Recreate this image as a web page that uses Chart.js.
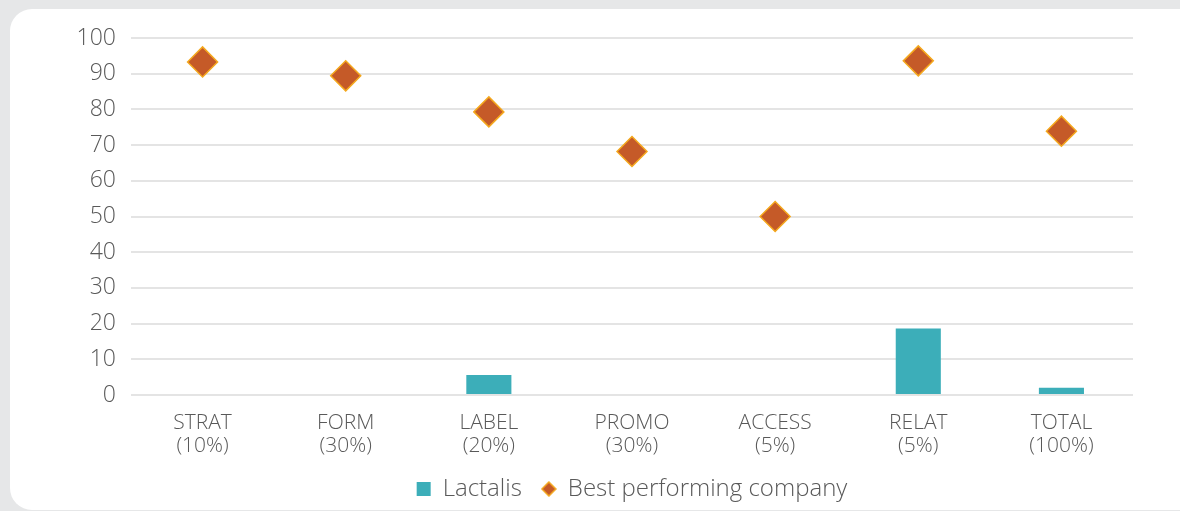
<!DOCTYPE html>
<html>
<head>
<meta charset="utf-8">
<script src="https://cdn.jsdelivr.net/npm/chart.js@4/dist/chart.umd.min.js"></script>
<style>
  html, body { margin: 0; padding: 0; background: #e6e7e8; }
  body { width: 1180px; height: 511px; position: relative; overflow: hidden; }
  .card { position: absolute; left: 10px; top: 9px; width: 1220px; height: 501px; background: #fff; border-radius: 22px; }
  .wrap { position: absolute; left: 0; top: 0; width: 1180px; height: 511px; }
</style>
</head>
<body>
<div class="card"></div>
<div class="wrap"><canvas id="chart"></canvas></div>
<script>
// categories and values
const categories = [['STRAT', '(10%)'], ['FORM', '(30%)'], ['LABEL', '(20%)'], ['PROMO', '(30%)'], ['ACCESS', '(5%)'], ['RELAT', '(5%)'], ['TOTAL', '(100%)']];
const lactalis = [0, 0, 5.6, 0, 0, 18.6, 2];
const bestCompany = [93.3, 89.4, 79.3, 68.2, 50, 93.6, 73.9];
const yTicks = [0, 10, 20, 30, 40, 50, 60, 70, 80, 90, 100];

const textColor = '#595959';
const fontFamily = "'Open Sans', 'Noto Sans', sans-serif";
const diamondFill = '#c55a28';
const diamondEdge = '#f4a81e';

// small diamond for the legend (smaller than the plotted markers)
const diamondIcon = document.createElement('canvas');
diamondIcon.width = 16;
diamondIcon.height = 16;
(function () {
    const c = diamondIcon.getContext('2d');
    c.beginPath();
    c.moveTo(8, 1); c.lineTo(15, 8); c.lineTo(8, 15); c.lineTo(1, 8); c.closePath();
    c.fillStyle = diamondFill;
    c.fill();
    c.lineWidth = 1.5;
    c.strokeStyle = diamondEdge;
    c.stroke();
})();

new Chart(document.getElementById('chart'), {
    data: {
        labels: categories,
        datasets: [
            {
                type: 'line',
                label: 'Best performing company',
                data: bestCompany,
                showLine: false,
                pointStyle: 'rectRot',
                pointRadius: 15,
                pointHoverRadius: 15,
                pointBackgroundColor: diamondFill,
                pointBorderColor: diamondEdge,
                pointBorderWidth: 1.5,
                backgroundColor: diamondFill,
                borderColor: diamondEdge,
                order: 0
            },
            {
                type: 'bar',
                label: 'Lactalis',
                data: lactalis,
                backgroundColor: '#3caeb9',
                borderWidth: 0,
                pointStyle: 'rect',
                categoryPercentage: 1,
                barPercentage: 0.315,
                order: 1
            }
        ]
    },
    options: {
        responsive: true,
        maintainAspectRatio: false,
        animation: false,
        layout: { padding: { left: 0, right: 47, top: 38, bottom: 0 } },
        scales: {
            x: {
                afterFit: (scale) => { scale.height = 62; },
                grid: { display: false, drawTicks: false },
                border: { display: false },
                ticks: {
                    color: textColor,
                    padding: 16,
                    maxRotation: 0,
                    font: { family: fontFamily, size: 21, weight: 300, lineHeight: 1.1 }
                }
            },
            y: {
                min: 0,
                max: 100,
                afterFit: (scale) => { scale.width = 131; },
                afterBuildTicks: (scale) => { scale.ticks = yTicks.map(v => ({ value: v })); },
                grid: { color: '#e4e4e4', lineWidth: 2, drawTicks: false },
                border: { display: false },
                ticks: {
                    color: textColor,
                    padding: 15,
                    font: { family: fontFamily, size: 23, weight: 300 }
                }
            }
        },
        plugins: {
            tooltip: { enabled: false },
            legend: {
                position: 'bottom',
                fullSize: false,
                reverse: true,
                maxHeight: 55,
                labels: {
                    usePointStyle: true,
                    boxWidth: 14,
                    boxHeight: 14,
                    padding: 20,
                    color: textColor,
                    font: { family: fontFamily, size: 24, weight: 300 },
                    generateLabels: (chart) => {
                        const items = Chart.defaults.plugins.legend.labels.generateLabels(chart);
                        items.forEach(it => { if (it.datasetIndex === 0) it.pointStyle = diamondIcon; });
                        return items;
                    }
                }
            }
        }
    }
});
</script>
</body>
</html>
